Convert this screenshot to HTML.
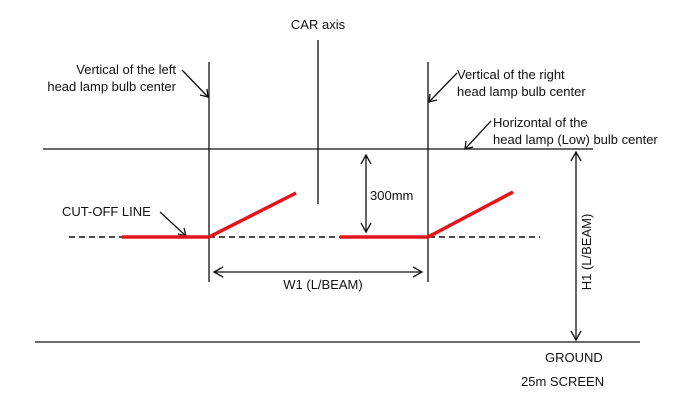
<!DOCTYPE html>
<html><head><style>body{margin:0;background:#fff}svg{display:block}text{font-family:"Liberation Sans",Arial,sans-serif;font-size:13px;fill:#111}</style></head>
<body>
<svg width="700" height="407" viewBox="0 0 700 407" xmlns="http://www.w3.org/2000/svg">
<g stroke="#111" stroke-width="1.3" fill="none">
<line x1="209" y1="62" x2="209" y2="282"/>
<line x1="428" y1="62" x2="428" y2="282"/>
<line x1="318" y1="40" x2="318" y2="204"/>
<line x1="43" y1="149" x2="593" y2="149"/>
<line x1="35" y1="342" x2="640" y2="342"/>
<line x1="69" y1="237" x2="540" y2="237" stroke-dasharray="6,4" stroke-width="1.5"/>
<line x1="182" y1="70" x2="208" y2="97"/><polyline points="200,95 208,97 207,89"/>
<line x1="457" y1="73" x2="429" y2="102"/><polyline points="430,94 429,102 437,100"/>
<line x1="491" y1="121" x2="465" y2="149"/><polyline points="466,141 465,149 473,147"/>
<line x1="160" y1="212" x2="186" y2="236"/><polyline points="178,234 186,236 184,228"/>
<line x1="366" y1="155" x2="366" y2="232"/><polyline points="361,164 366,155 371,164"/><polyline points="361,223 366,232 371,223"/>
<line x1="214" y1="272" x2="422" y2="272"/><polyline points="223,267 214,272 223,277"/><polyline points="413,267 422,272 413,277"/>
<line x1="576" y1="152" x2="576" y2="340"/><polyline points="571,161 576,152 581,161"/><polyline points="571,331 576,340 581,331"/>
</g>
<g stroke="#e3151a" stroke-width="3.5" fill="none">
<polyline points="122,237 209,237 296,193"/>
<polyline points="340,237 428,237 513,192"/>
</g>
<text x="318" y="29" text-anchor="middle">CAR axis</text>
<text x="176" y="74" text-anchor="end">Vertical of the left</text>
<text x="176" y="91" text-anchor="end">head lamp bulb center</text>
<text x="457" y="79">Vertical of the right</text>
<text x="457" y="96">head lamp bulb center</text>
<text x="493" y="127">Horizontal of the</text>
<text x="493" y="144">head lamp (Low) bulb center</text>
<text x="62" y="216">CUT-OFF LINE</text>
<text x="370" y="200">300mm</text>
<text x="323" y="289" text-anchor="middle">W1 (L/BEAM)</text>
<text x="545" y="362">GROUND</text>
<text x="521" y="386">25m SCREEN</text>
<text transform="translate(591,252) rotate(-90)" text-anchor="middle">H1  (L/BEAM)</text>
</svg>
</body></html>
